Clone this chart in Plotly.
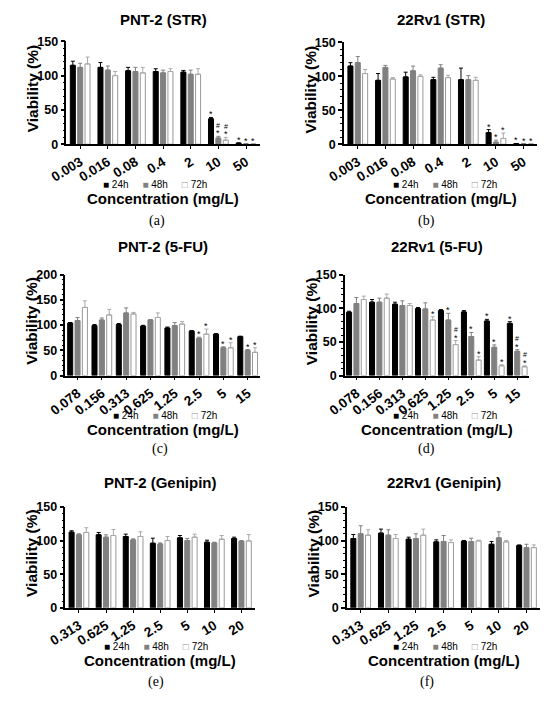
import plotly.graph_objects as go

FONT = "Liberation Sans, Arial, sans-serif"
SERIF = "Liberation Serif, Times New Roman, serif"
W, H = 550, 706

times = ["24h", "48h", "72h"]

# (a) PNT-2 (STR)
a_conc = ["0.003", "0.016", "0.08", "0.4", "2", "10", "50"]
a_24 = [115, 112, 107, 106, 105, 37, 1.5]
a_24_err = [6, 7, 5, 4, 2.5, 2, 0.5]
a_48 = [112, 108, 106, 104, 102, 9, 0.4]
a_48_err = [6, 6, 6, 4, 6, 2.5, 0.3]
a_72 = [117, 100, 104, 106, 102, 6, 0.4]
a_72_err = [10, 6, 8, 4, 8, 4, 0.3]
a_24_sig = ["", "", "", "", "", "*", "*"]
a_48_sig = ["", "", "", "", "", "#*", "*"]
a_72_sig = ["", "", "", "", "", "#*", "*"]

# (b) 22Rv1 (STR)
b_conc = ["0.003", "0.016", "0.08", "0.4", "2", "10", "50"]
b_24 = [115, 94, 99, 95, 95, 17, 0.8]
b_24_err = [5, 10, 7, 3.5, 17, 4.5, 0.3]
b_48 = [120, 113, 108, 112, 95, 3, 0.5]
b_48_err = [9, 3, 7, 5, 6, 3, 0.3]
b_72 = [104, 96, 100, 98, 94, 8.5, 0.5]
b_72_err = [6, 2, 2, 3.5, 4.5, 8, 0.3]
b_24_sig = ["", "", "", "", "", "*", "*"]
b_48_sig = ["", "", "", "", "", "*", "*"]
b_72_sig = ["", "", "", "", "", "*", "*"]

# (c) PNT-2 (5-FU)
c_conc = ["0.078", "0.156", "0.313", "0.625", "1.25", "2.5", "5", "15"]
c_24 = [104, 99, 101, 98, 94, 88, 82, 77]
c_24_err = [1, 2, 2, 1.5, 2, 1, 1, 1]
c_48 = [109, 110, 124, 110, 99, 74, 55, 50]
c_48_err = [6, 4, 10, 1, 6, 2, 2, 1.5]
c_72 = [135, 120, 122, 115, 102, 82, 55, 46]
c_72_err = [13, 11, 3, 9, 5, 10, 10, 9]
c_24_sig = ["", "", "", "", "", "", "", ""]
c_48_sig = ["", "", "", "", "", "*", "*", "*"]
c_72_sig = ["", "", "", "", "", "*", "*", "*"]

# (d) 22Rv1 (5-FU)
d_conc = ["0.078", "0.156", "0.313", "0.625", "1.25", "2.5", "5", "15"]
d_24 = [94, 109, 106, 99.5, 96.5, 94.5, 81, 77.5]
d_24_err = [1.5, 4, 3, 1.5, 1.5, 2, 2.5, 2.5]
d_48 = [107, 109, 104, 99, 82.5, 58, 42, 36]
d_48_err = [9, 6, 7, 9, 10, 6, 3.5, 2.5]
d_72 = [113, 115, 104, 82.5, 46, 23, 14.5, 13]
d_72_err = [5, 6, 3, 5, 6, 5, 1.5, 1.5]
d_24_sig = ["", "", "", "", "", "", "*", "*"]
d_48_sig = ["", "", "", "", "*", "*", "*", "#*"]
d_72_sig = ["", "", "", "*", "#*", "*", "*", "#*"]

# (e) PNT-2 (Genipin)
e_conc = ["0.313", "0.625", "1.25", "2.5", "5", "10", "20"]
e_24 = [112.5, 108.5, 106, 96, 104, 97.5, 103]
e_24_err = [2, 3.5, 3.5, 7.5, 3.5, 3, 2]
e_48 = [108.5, 105, 101, 95, 100, 96.5, 99]
e_48_err = [1.5, 3.5, 1.5, 1.5, 3, 1, 1]
e_72 = [112, 107.5, 106, 100, 105, 102, 99.5]
e_72_err = [7, 9, 7, 6, 4.5, 5.5, 9.5]

# (f) 22Rv1 (Genipin)
f_conc = ["0.313", "0.625", "1.25", "2.5", "5", "10", "20"]
f_24 = [103, 111, 102, 98, 99, 94.5, 92.5]
f_24_err = [6, 6, 3, 3, 1, 4, 1]
f_48 = [110, 108, 103, 98.5, 98.5, 104, 89.5]
f_48_err = [12, 8, 7, 9, 5, 9, 5]
f_72 = [108, 103, 108, 97, 99.5, 98, 89.5]
f_72_err = [8, 6, 9, 4, 1, 2, 4]

no_sig = [""] * 7

# bar styles for 24h / 48h / 72h
fills = ["black", "#808080", "white"]
outlines = ["black", "#808080", "#999999"]
err_colors = ["black", "#808080", "#aaaaaa"]

# plot frame in pixels: left, right, top, bottom
panels = [
    dict(title="PNT-2 (STR)", tag="(a)", conc=a_conc, ymax=150, box=(50, 250, 35, 140), angle=-32,
         series=[(a_24, a_24_err, a_24_sig), (a_48, a_48_err, a_48_sig), (a_72, a_72_err, a_72_sig)],
         title_y=13, leg=(142, 181), xt_y=195, cap=(144, 218)),
    dict(title="22Rv1 (STR)", tag="(b)", conc=b_conc, ymax=150, box=(337, 537, 36, 140), angle=-32,
         series=[(b_24, b_24_err, b_24_sig), (b_48, b_48_err, b_48_sig), (b_72, b_72_err, b_72_sig)],
         title_y=13, leg=(441, 181), xt_y=195, cap=(422, 218)),
    dict(title="PNT-2 (5-FU)", tag="(c)", conc=c_conc, ymax=200, box=(49, 250, 273, 376), angle=-38,
         series=[(c_24, c_24_err, c_24_sig), (c_48, c_48_err, c_48_sig), (c_72, c_72_err, c_72_sig)],
         title_y=244, leg=(152, 417), xt_y=431, cap=(147, 451)),
    dict(title="22Rv1 (5-FU)", tag="(d)", conc=d_conc, ymax=150, box=(338, 528, 273, 376), angle=-38,
         series=[(d_24, d_24_err, d_24_sig), (d_48, d_48_err, d_48_sig), (d_72, d_72_err, d_72_sig)],
         title_y=244, leg=(441, 417), xt_y=431, cap=(422, 451)),
    dict(title="PNT-2 (Genipin)", tag="(e)", conc=e_conc, ymax=150, box=(49, 245, 510, 613), angle=-32,
         series=[(e_24, e_24_err, no_sig), (e_48, e_48_err, no_sig), (e_72, e_72_err, no_sig)],
         title_y=485, leg=(143, 652), xt_y=667, cap=(143, 689)),
    dict(title="22Rv1 (Genipin)", tag="(f)", conc=f_conc, ymax=150, box=(340, 540, 510, 613), angle=-32,
         series=[(f_24, f_24_err, no_sig), (f_48, f_48_err, no_sig), (f_72, f_72_err, no_sig)],
         title_y=485, leg=(441, 652), xt_y=667, cap=(423, 689)),
]


def px_x(v):
    return v / W


def px_y(v):
    return 1 - v / H


def text_note(x, y, text, size, bold=True, family=FONT, angle=0):
    return dict(x=px_x(x), y=px_y(y), xref="paper", yref="paper", text=text, showarrow=False,
                xanchor="center", yanchor="middle", textangle=angle, borderpad=0,
                font=dict(family=family, size=size, color="black", weight="bold" if bold else "normal"))


legend_marks = ['<span style="color:black">■</span>',
                '<span style="color:#808080">■</span>',
                '<span style="color:#999999">□</span>']
legend_text = ("\u00a0" * 5).join(m + "\u00a0" + t for m, t in zip(legend_marks, times))

fig = go.Figure()
notes = []

for i, p in enumerate(panels, start=1):
    xa = "x" if i == 1 else "x%d" % i
    ya = "y" if i == 1 else "y%d" % i
    n = len(p["conc"])
    x0, x1, yt, yb = p["box"]
    unit = (x1 - x0) / n
    bw = 5.2 / unit
    pitch = 7.6 / unit

    for k, (vals, errs, sig) in enumerate(p["series"]):
        xs = [j + (k - 1) * pitch for j in range(n)]
        fig.add_trace(go.Bar(
            x=xs, y=vals, width=bw, xaxis=xa, yaxis=ya, name=times[k], showlegend=False,
            marker=dict(color=fills[k], line=dict(color=outlines[k], width=1)),
            error_y=dict(type="data", array=errs, arrayminus=[0] * n, symmetric=False,
                         color=err_colors[k], thickness=1, width=2),
        ))
        # significance marks: * vs control, # stacked above where present
        for xv, v, e, s in zip(xs, vals, errs, sig):
            if "*" in s:
                notes.append(dict(x=xv, y=v + e, xref=xa, yref=ya, text="*", showarrow=False,
                                  yanchor="middle", yshift=3, borderpad=0,
                                  font=dict(family=FONT, size=9, color="black")))
            if "#" in s:
                notes.append(dict(x=xv, y=v + e, xref=xa, yref=ya, text="#", showarrow=False,
                                  yanchor="middle", yshift=11, borderpad=0,
                                  font=dict(family=FONT, size=7, color="black")))

    fig.update_layout(**{
        ("xaxis" if i == 1 else "xaxis%d" % i): dict(
            domain=[px_x(x0), px_x(x1)], anchor=ya, range=[-0.5, n - 0.5],
            tickmode="array", tickvals=list(range(n)), ticktext=p["conc"], tickangle=p["angle"],
            ticks="outside", ticklen=3, tickwidth=1.2, tickcolor="black",
            showline=True, linecolor="black", linewidth=1.5, showgrid=False, zeroline=False,
            tickfont=dict(family=FONT, size=13.5, color="black", weight="bold"),
        ),
        ("yaxis" if i == 1 else "yaxis%d" % i): dict(
            domain=[px_y(yb), px_y(yt)], anchor=xa, range=[0, p["ymax"]],
            tickmode="linear", tick0=0, dtick=50,
            ticks="outside", ticklen=4, tickwidth=1.5, tickcolor="black",
            minor=dict(ticks="outside", ticklen=2, tickwidth=1, tickcolor="black", dtick=10),
            showline=True, linecolor="black", linewidth=1.5, showgrid=False, zeroline=False,
            tickfont=dict(family=FONT, size=12.5, color="black", weight="bold"),
        ),
    })

    cx = (x0 + x1) / 2
    notes.append(text_note(cx, p["title_y"], p["title"], 15))
    notes.append(text_note(x0 - 35, (yt + yb) / 2 - 4, "Viability (%)", 15.5, angle=-90))
    notes.append(text_note(cx, p["xt_y"], "Concentration (mg/L)", 15))
    notes.append(text_note(p["leg"][0], p["leg"][1], legend_text, 10, bold=False))
    notes.append(text_note(p["cap"][0], p["cap"][1], p["tag"], 14, bold=False, family=SERIF))

fig.update_layout(
    width=W, height=H, margin=dict(l=0, r=0, t=0, b=0),
    paper_bgcolor="white", plot_bgcolor="white",
    barmode="overlay", showlegend=False,
    annotations=notes,
)

fig.write_html("out.html", config={"displayModeBar": False},
               post_script="document.body.style.margin='0';document.body.style.overflow='hidden';")
